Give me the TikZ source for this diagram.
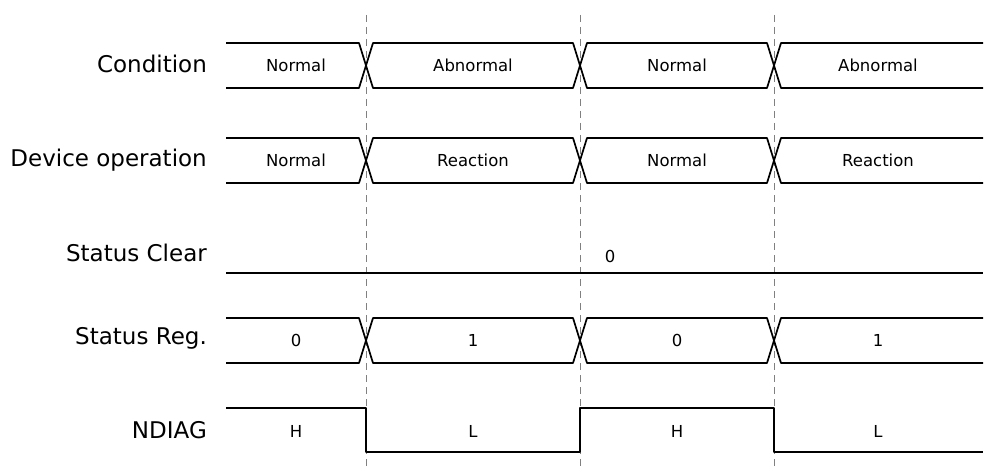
\documentclass[tikz,border=0pt]{standalone}
\usepackage{fontspec}
\setmainfont{DejaVu Sans}
\begin{document}
\begin{tikzpicture}[x=1pt, y=-1pt, line width=1.7pt, line join=round,
    lbl/.style={anchor=east, font=\fontsize{23}{25}\selectfont},
    val/.style={font=\fontsize{16.5}{18}\selectfont},
    grid/.style={gray, line width=1pt, dash pattern=on 7pt off 5pt}]
\useasboundingbox (0,0) rectangle (985,468);
% time marks
\draw[grid] (366,15) -- (366,466);
\draw[grid] (580,15) -- (580,466);
\draw[grid] (774,15) -- (774,466);
% signal names
\node[lbl] (cond) at (211,64) {Condition};
\node[lbl] (dev) at (211,160) {Device operation};
\node[lbl] (clr) at (211,253) {Status Clear};
\node[lbl] (reg) at (211,338) {Status Reg.};
\node[lbl] (ndiag) at (211,430) {NDIAG};
% buses
\foreach \t/\b in {43/88, 138/183, 318/363}
  \draw (226,\t) -- (359,\t) -- (373,\b) -- (573,\b) -- (587,\t) -- (767,\t) -- (781,\b) -- (983,\b)
        (226,\b) -- (359,\b) -- (373,\t) -- (573,\t) -- (587,\b) -- (767,\b) -- (781,\t) -- (983,\t);
\node[val] (c1) at (296,65) {Normal};
\node[val] (c2) at (473,65) {Abnormal};
\node[val] (c3) at (677,65) {Normal};
\node[val] (c4) at (878,65) {Abnormal};
\node[val] (d1) at (296,160) {Normal};
\node[val] (d2) at (473,160) {Reaction};
\node[val] (d3) at (677,160) {Normal};
\node[val] (d4) at (878,160) {Reaction};
% status clear
\draw (226,273) -- (983,273);
\node[val] (s0) at (610,256) {0};
\node[val] (r1) at (296,340) {0};
\node[val] (r2) at (473,340) {1};
\node[val] (r3) at (677,340) {0};
\node[val] (r4) at (878,340) {1};
% ndiag
\draw (226,408) -- (366,408) -- (366,452) -- (580,452) -- (580,408) -- (774,408) -- (774,452) -- (983,452);
\node[val] (n1) at (296,431) {H};
\node[val] (n2) at (473,431) {L};
\node[val] (n3) at (677,431) {H};
\node[val] (n4) at (878,431) {L};
\end{tikzpicture}
\end{document}
